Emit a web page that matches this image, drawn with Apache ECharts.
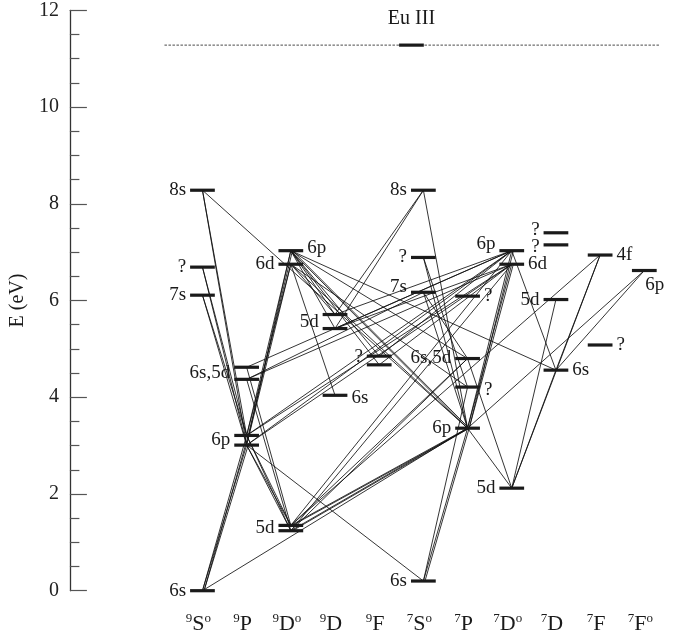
<!DOCTYPE html>
<html>
<head>
<meta charset="utf-8">
<title>Eu II Grotrian diagram</title>
<script src="https://cdn.jsdelivr.net/npm/echarts@6/dist/echarts.min.js"></script>
<style>
  html, body { margin: 0; padding: 0; background: #ffffff; }
  #chart { width: 680px; height: 639px; }
</style>
</head>
<body>
<div id="chart"></div>
<script>
// ---- Terms (one column each) ----
const termMult   = ['9', '9', '9', '9', '9', '7', '7', '7', '7', '7', '7'];
const termLetter = ['S', 'P', 'D', 'D', 'F', 'S', 'P', 'D', 'D', 'F', 'F'];
const termOdd    = [true, false, true, false, false, true, false, true, false, false, true];

// ---- Energy levels: key, term column, energy (eV) ----
const levelKey = [
  'S9_8s', 'S9_q', 'S9_7s', 'S9_6s',
  'P9_65a', 'P9_65b', 'P9_6pa', 'P9_6pb',
  'D9o_6p', 'D9o_6d', 'D9o_5da', 'D9o_5db',
  'D9_5da', 'D9_5db', 'D9_6s',
  'F9_qa', 'F9_qb',
  'S7_8s', 'S7_q', 'S7_7s', 'S7_6s',
  'P7_q1', 'P7_65', 'P7_q2', 'P7_6p',
  'D7o_6p', 'D7o_6d', 'D7o_5d',
  'D7_qa', 'D7_qb', 'D7_5d', 'D7_6s',
  'F7_4f', 'F7_q',
  'F7o_6p'
];
const levelTerm = [
  0, 0, 0, 0,
  1, 1, 1, 1,
  2, 2, 2, 2,
  3, 3, 3,
  4, 4,
  5, 5, 5, 5,
  6, 6, 6, 6,
  7, 7, 7,
  8, 8, 8, 8,
  9, 9,
  10
];
const levelEnergy = [
  8.28, 6.69, 6.11, 0.00,
  4.62, 4.37, 3.21, 3.01,
  7.03, 6.75, 1.35, 1.24,
  5.71, 5.42, 4.04,
  4.85, 4.67,
  8.28, 6.89, 6.17, 0.20,
  6.09, 4.80, 4.21, 3.36,
  7.03, 6.75, 2.12,
  7.40, 7.15, 6.02, 4.56,
  6.94, 5.08,
  6.62
];

// ---- Configuration labels of the levels ----
const labelText = [
  '8s', '?', '7s', '6s',
  '6s,5d', '6p',
  '6p', '6d', '5d',
  '5d', '6s',
  '?',
  '8s', '?', '7s', '6s',
  '?', '6s,5d', '?', '6p',
  '6p', '6d', '5d',
  '?', '?', '5d', '6s',
  '4f', '?',
  '6p'
];
const labelLevels = [
  ['S9_8s'], ['S9_q'], ['S9_7s'], ['S9_6s'],
  ['P9_65a', 'P9_65b'], ['P9_6pa', 'P9_6pb'],
  ['D9o_6p'], ['D9o_6d'], ['D9o_5da', 'D9o_5db'],
  ['D9_5da', 'D9_5db'], ['D9_6s'],
  ['F9_qa'],
  ['S7_8s'], ['S7_q'], ['S7_7s'], ['S7_6s'],
  ['P7_q1'], ['P7_65'], ['P7_q2'], ['P7_6p'],
  ['D7o_6p'], ['D7o_6d'], ['D7o_5d'],
  ['D7_qa'], ['D7_qb'], ['D7_5d'], ['D7_6s'],
  ['F7_4f'], ['F7_q'],
  ['F7o_6p']
];

// ---- Transitions (lower/upper level pairs) ----
const lineFrom = [
  'S9_6s', 'S9_6s', 'S9_6s', 'S9_6s', 'S9_6s',
  'S9_7s', 'S9_7s', 'S9_q', 'S9_q', 'S9_8s', 'S9_8s', 'S9_8s',
  'P9_6pa', 'P9_6pa', 'P9_6pb', 'P9_6pa', 'P9_6pb',
  'P9_6pa', 'P9_6pa', 'P9_6pb', 'P9_6pb', 'P9_65a', 'P9_65b',
  'P9_6pb',
  'P9_6pa', 'P9_6pb', 'P9_6pa', 'P9_6pb', 'P9_65a', 'P9_65b', 'P9_65b',
  'D9o_6p', 'D9o_6p', 'D9o_6d', 'D9o_6d',
  'D9o_6p', 'D9o_6p',
  'D9o_6p', 'D9o_6p', 'D9o_6d', 'D9o_6p', 'D9o_6d', 'D9o_6p',
  'D9_5da', 'D9_5db',
  'D9_5da', 'D9_5db', 'D9_5db',
  'F9_qa', 'F9_qb',
  'D9o_5da', 'D9o_5da', 'D9o_5db', 'D9o_5db',
  'D9o_5da', 'D9o_5db', 'D9o_5da', 'D9o_5db',
  'D9o_5da',
  'S7_8s', 'S7_q', 'S7_q', 'S7_7s', 'S7_7s', 'S7_6s', 'S7_6s', 'S7_6s',
  'P7_6p', 'P7_6p', 'P7_6p', 'P7_6p',
  'P7_6p', 'P7_65', 'P7_6p',
  'D7o_5d', 'D7o_5d', 'D7o_5d', 'D7o_6p',
  'D7_6s', 'D7_6s'
];
const lineTo = [
  'P9_6pa', 'P9_6pa', 'P9_6pb', 'P9_6pb', 'P7_6p',
  'P9_6pa', 'P9_6pb', 'P9_6pa', 'P9_6pb', 'P9_6pa', 'P9_6pb', 'P7_6p',
  'D9o_6p', 'D9o_6p', 'D9o_6p', 'D9o_6d', 'D9o_6d',
  'D9o_5da', 'D9o_5db', 'D9o_5da', 'D9o_5db', 'D9o_5da', 'D9o_5db',
  'S7_6s',
  'D7o_6p', 'D7o_6p', 'D7o_6d', 'D7o_6d', 'D7o_6p', 'D7o_6d', 'S7_7s',
  'D9_5da', 'D9_5db', 'D9_5da', 'D9_6s',
  'F9_qa', 'F9_qb',
  'P7_6p', 'P7_6p', 'P7_6p', 'P7_65', 'P7_q2', 'D7_6s',
  'S7_8s', 'S7_8s',
  'D7o_6p', 'D7o_6p', 'D7o_6d',
  'D7o_6p', 'D7o_6d',
  'P7_6p', 'P7_6p', 'P7_6p', 'P7_6p',
  'P7_65', 'P7_65', 'D7o_6p', 'D7o_6d',
  'F7_4f',
  'P7_6p', 'P7_6p', 'P7_q2', 'P7_6p', 'P7_65', 'P7_6p', 'P7_6p', 'P7_q2',
  'D7o_6p', 'D7o_6p', 'D7o_6d', 'D7o_6d',
  'D7o_5d', 'D7o_5d', 'F7o_6p',
  'D7_5d', 'D7_6s', 'F7_4f', 'D7_6s',
  'F7_4f', 'F7o_6p'
];

// ---- Ionization limit ----
const limitName = 'Eu III';
const limitEnergy = 11.28;

// ================= drawing =================
const ink = '#1a1a1a';
const serif = '"Liberation Serif", "DejaVu Serif", serif';
const barUnits = 0.56;          // level bar width in column units
const limitColumn = 4.73;       // limit bar sits between 9F and 7S columns
const limitSpan = [-0.86, 10.35];

const idx = {};
levelKey.forEach((k, i) => { idx[k] = i; });

// transitions, with a small pixel shift for repeated pairs so bundles show as several lines
const seen = {};
const lineData = lineFrom.map((f, i) => {
  const t = lineTo[i];
  const key = f + '>' + t;
  const n = seen[key] || 0;
  seen[key] = n + 1;
  const a = idx[f], b = idx[t];
  const shift = n === 0 ? 0 : (n % 2 ? 1.6 : -1.6) * Math.ceil(n / 2);
  return [levelTerm[a], levelEnergy[a], levelTerm[b], levelEnergy[b], shift];
});

const levelData = levelKey.map((k, i) => [levelTerm[i], levelEnergy[i]]);
levelData.push([limitColumn, limitEnergy]);

// label placement: side, dx, dy (pixels)
const labelPlace = [
  ['l', 0, 0], ['l', 0, 0], ['l', 0, 0], ['l', 0, 0],
  ['l', 0, 0], ['l', 0, 0],
  ['r', 0, -3], ['l', 0, 0], ['l', 0, 0],
  ['l', 0, 0], ['r', 0, 3],
  ['l', 0, 1],
  ['l', 0, 0], ['l', 0, 0], ['l', 0, -5], ['l', 0, 0],
  ['r', 0, 0], ['l', 0, -1], ['r', 0, 3], ['l', 0, 0],
  ['l', 0, -7], ['r', 0, 0], ['l', 0, 0],
  ['l', 0, -3], ['l', 0, 2], ['l', 0, 0], ['r', 0, 0],
  ['r', 0, 0], ['r', 0, 0],
  ['b', 0, 15]
];
const labelData = labelText.map((txt, i) => {
  const lv = labelLevels[i].map(k => idx[k]);
  const e = lv.reduce((s, j) => s + levelEnergy[j], 0) / lv.length;
  return [levelTerm[lv[0]], e, i];
});

const chart = echarts.init(document.getElementById('chart'), null, { renderer: 'canvas' });

chart.setOption({
  animation: false,
  backgroundColor: '#ffffff',
  grid: { left: 64.3, right: 13.6, top: 10.3, bottom: 48.3, containLabel: false },
  xAxis: {
    type: 'value', min: -3, max: 10.5, interval: 1,
    axisLine: { show: false, onZero: false }, axisTick: { show: false }, splitLine: { show: false },
    axisLabel: {
      margin: 21,
      padding: [0, 8, 0, 0],
      formatter: v => {
        if (v < 0 || v > 10 || Math.round(v) !== v) return '';
        return '{sup|' + termMult[v] + '}{main|' + termLetter[v] + '}' + (termOdd[v] ? '{sup|o}' : '');
      },
      rich: {
        main: { fontFamily: serif, fontSize: 22, color: ink, lineHeight: 24, verticalAlign: 'bottom' },
        sup: { fontFamily: serif, fontSize: 13, color: ink, lineHeight: 24, verticalAlign: 'top' }
      }
    }
  },
  yAxis: {
    type: 'value', min: 0, max: 12, interval: 2,
    name: 'E (eV)', nameLocation: 'middle', nameGap: 29, nameRotate: 90,
    nameTextStyle: { fontFamily: serif, fontSize: 20, color: ink },
    axisLine: { show: true, onZero: false, lineStyle: { color: '#333', width: 1.3 } },
    axisTick: { show: true, inside: true, length: 17, lineStyle: { color: '#555', width: 1.2 } },
    minorTick: { show: true, splitNumber: 4, length: 9.5, lineStyle: { color: '#555', width: 1.2 } },
    axisLabel: { fontFamily: serif, fontSize: 20, color: '#222', margin: 11 },
    splitLine: { show: false }
  },
  series: [
    {
      // dashed ionization limit
      type: 'line', silent: true, symbol: 'none', z: 1,
      data: [[limitSpan[0], limitEnergy], [limitSpan[1], limitEnergy]],
      lineStyle: { color: ink, width: 0.8, type: [2.5, 1.5] }
    },
    {
      // transitions
      type: 'custom', silent: true, z: 2,
      data: lineData,
      renderItem: (params, api) => {
        const p1 = api.coord([api.value(0), api.value(1)]);
        const p2 = api.coord([api.value(2), api.value(3)]);
        const s = api.value(4);
        return {
          type: 'line',
          shape: { x1: p1[0] + s, y1: p1[1], x2: p2[0] + s, y2: p2[1] },
          style: { stroke: '#111', lineWidth: 0.85 }
        };
      }
    },
    {
      // level bars
      type: 'custom', silent: true, z: 3,
      data: levelData,
      renderItem: (params, api) => {
        const c = api.coord([api.value(0), api.value(1)]);
        const w = api.size([barUnits, 0])[0];
        return {
          type: 'rect',
          shape: { x: c[0] - w / 2, y: c[1] - 1.6, width: w, height: 3.2 },
          style: { fill: ink }
        };
      }
    },
    {
      // level labels
      type: 'custom', silent: true, z: 4,
      data: labelData,
      renderItem: (params, api) => {
        const c = api.coord([api.value(0), api.value(1)]);
        const w = api.size([barUnits, 0])[0];
        const i = api.value(2);
        const pl = labelPlace[i];
        let x, align;
        if (pl[0] === 'l') { x = c[0] - w / 2 - 4; align = 'right'; }
        else if (pl[0] === 'r') { x = c[0] + w / 2 + 4; align = 'left'; }
        else { x = c[0] + 1; align = 'left'; }
        return {
          type: 'text',
          style: {
            x: x + pl[1], y: c[1] + pl[2], text: labelText[i],
            align: align, verticalAlign: 'middle',
            font: '19px ' + serif, fill: ink
          }
        };
      }
    },
    {
      // ionization limit name
      type: 'custom', silent: true, z: 4,
      data: [[limitColumn, limitEnergy]],
      renderItem: (params, api) => {
        const c = api.coord([api.value(0), api.value(1)]);
        return {
          type: 'text',
          style: {
            x: c[0], y: c[1] - 26, text: limitName,
            align: 'center', verticalAlign: 'middle',
            font: '20px ' + serif, fill: ink
          }
        };
      }
    }
  ]
});
</script>
</body>
</html>
